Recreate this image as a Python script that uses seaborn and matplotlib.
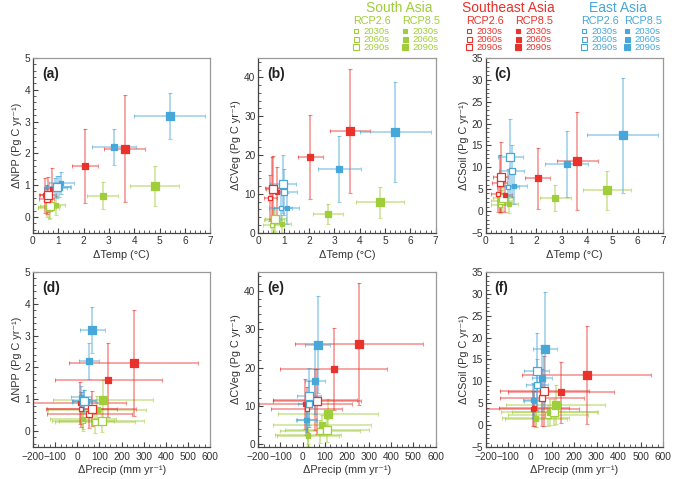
import numpy as np
import pandas as pd
import matplotlib
matplotlib.use('Agg')
import matplotlib.pyplot as plt
from matplotlib.ticker import AutoMinorLocator, MultipleLocator
from matplotlib.lines import Line2D
import seaborn as sns

# ── Data (order: RCP2.6 2030s/2060s/2090s, RCP8.5 2030s/2060s/2090s) ─────────
regions = ['South Asia', 'Southeast Asia', 'East Asia']
scenarios = ['RCP2.6', 'RCP2.6', 'RCP2.6', 'RCP8.5', 'RCP8.5', 'RCP8.5']
periods = ['2030s', '2060s', '2090s', '2030s', '2060s', '2090s']

temp_sa = [0.55, 0.62, 0.68, 0.93, 2.75, 4.80]
temp_sa_err = [0.35, 0.40, 0.40, 0.35, 0.60, 0.95]
temp_sea = [0.48, 0.55, 0.60, 0.75, 2.05, 3.62]
temp_sea_err = [0.25, 0.30, 0.30, 0.30, 0.50, 0.80]
temp_ea = [0.88, 1.02, 0.97, 1.12, 3.20, 5.40]
temp_ea_err = [0.45, 0.50, 0.50, 0.50, 0.85, 1.40]

precip_sa = [25, 80, 110, 25, 88, 115]
precip_sa_err = [140, 180, 190, 150, 220, 225]
precip_sea = [18, 55, 65, 12, 140, 255]
precip_sea_err = [160, 190, 200, 210, 240, 290]
precip_ea = [20, 30, 30, 15, 55, 68]
precip_ea_err = [45, 50, 55, 45, 45, 55]

npp_sa = [0.30, 0.28, 0.33, 0.37, 0.67, 0.97]
npp_sa_err = [0.30, 0.35, 0.35, 0.30, 0.43, 0.63]
npp_sea = [0.68, 0.55, 0.70, 0.88, 1.60, 2.15]
npp_sea_err = [0.55, 0.45, 0.55, 0.67, 1.17, 1.67]
npp_ea = [0.92, 0.95, 0.93, 1.07, 2.20, 3.17]
npp_ea_err = [0.30, 0.33, 0.35, 0.35, 0.56, 0.72]

cveg_sa = [2.0, 3.3, 3.5, 2.2, 4.9, 7.8]
cveg_sa_err = [2.5, 3.0, 3.0, 2.3, 2.6, 3.9]
cveg_sea = [9.0, 11.5, 11.2, 10.5, 19.6, 26.2]
cveg_sea_err = [6.0, 8.0, 8.5, 6.5, 10.8, 16.0]
cveg_ea = [6.3, 10.5, 12.5, 6.3, 16.4, 26.0]
cveg_ea_err = [4.0, 6.0, 7.5, 4.0, 8.5, 12.8]

csoil_sa = [1.3, 2.2, 3.0, 1.5, 2.9, 4.7]
csoil_sa_err = [1.8, 2.5, 3.0, 2.0, 3.0, 4.4]
csoil_sea = [3.8, 6.3, 7.8, 3.7, 7.5, 11.5]
csoil_sea_err = [4.0, 6.5, 8.0, 4.0, 7.0, 11.2]
csoil_ea = [5.5, 9.2, 12.3, 5.7, 10.8, 17.3]
csoil_ea_err = [4.0, 6.0, 8.8, 4.0, 7.5, 13.2]

# ── Tidy table ─────────────────────────────────────────────────────────────
region_data = {
    'South Asia': (temp_sa, temp_sa_err, precip_sa, precip_sa_err, npp_sa, npp_sa_err,
                   cveg_sa, cveg_sa_err, csoil_sa, csoil_sa_err),
    'Southeast Asia': (temp_sea, temp_sea_err, precip_sea, precip_sea_err, npp_sea, npp_sea_err,
                       cveg_sea, cveg_sea_err, csoil_sea, csoil_sea_err),
    'East Asia': (temp_ea, temp_ea_err, precip_ea, precip_ea_err, npp_ea, npp_ea_err,
                  cveg_ea, cveg_ea_err, csoil_ea, csoil_ea_err),
}
cols = ['temp', 'temp_err', 'precip', 'precip_err', 'npp', 'npp_err',
        'cveg', 'cveg_err', 'csoil', 'csoil_err']
rows = []
for reg in regions:
    vals = region_data[reg]
    for i in range(6):
        r = {'region': reg, 'scenario': scenarios[i], 'period': periods[i]}
        for c, v in zip(cols, vals):
            r[c] = v[i]
        rows.append(r)
df = pd.DataFrame(rows)

# ── Style ──────────────────────────────────────────────────────────────────
sns.set_style('ticks')
plt.rcParams['font.family'] = ['Liberation Sans', 'DejaVu Sans']

colors = {'South Asia': '#a0cd3a', 'Southeast Asia': '#e8322b', 'East Asia': '#46a7d8'}
msize = {'2030s': 2.8, '2060s': 4.0, '2090s': 5.3}

fig = plt.figure(figsize=(6.85, 4.79), dpi=100)

w, h = 0.259, 0.365
lefts = [0.048, 0.377, 0.709]
panels = [
    ('temp', 'npp', '(a)', (-0.5, 5), 1, 5, 'ΔNPP (Pg C yr⁻¹)'),
    ('temp', 'cveg', '(b)', (0, 45), 10, 5, 'ΔCVeg (Pg C yr⁻¹)'),
    ('temp', 'csoil', '(c)', (-5, 35), 5, 5, 'ΔCSoil (Pg C yr⁻¹)'),
    ('precip', 'npp', '(d)', (-0.5, 5), 1, 5, 'ΔNPP (Pg C yr⁻¹)'),
    ('precip', 'cveg', '(e)', (-0.8, 45), 10, 5, 'ΔCVeg (Pg C yr⁻¹)'),
    ('precip', 'csoil', '(f)', (-5, 35), 5, 5, 'ΔCSoil (Pg C yr⁻¹)'),
]

for k, (xc, yc, tag, ylim, ymaj, ymin_n, ylab) in enumerate(panels):
    row = k // 3
    bottom = 0.514 if row == 0 else 0.067
    ax = fig.add_axes([lefts[k % 3], bottom, w, h])

    # error bars first, then the squares on top
    for reg in regions:
        sub = df[df['region'] == reg]
        ax.errorbar(sub[xc], sub[yc], xerr=sub[xc + '_err'], yerr=sub[yc + '_err'],
                    fmt='none', ecolor=colors[reg], alpha=0.55, elinewidth=1.1,
                    capsize=1.5, capthick=0.8, zorder=2)
    for reg in regions:
        for per in ['2030s', '2060s', '2090s']:
            for sc in ['RCP2.6', 'RCP8.5']:
                sub = df[(df['region'] == reg) & (df['period'] == per) & (df['scenario'] == sc)]
                face = 'white' if sc == 'RCP2.6' else colors[reg]
                sns.scatterplot(data=sub, x=xc, y=yc, marker='s', s=msize[per] ** 2,
                                color=face, edgecolor=colors[reg], linewidth=0.9,
                                ax=ax, zorder=3, legend=False)

    if xc == 'temp':
        ax.set_xlim(0, 7)
        ax.xaxis.set_major_locator(MultipleLocator(1))
        ax.xaxis.set_minor_locator(AutoMinorLocator(5))
        ax.set_xlabel('ΔTemp (°C)', fontsize=7.8, color='#333333', labelpad=3)
    else:
        ax.set_xlim(-200, 600)
        ax.xaxis.set_major_locator(MultipleLocator(100))
        ax.xaxis.set_minor_locator(AutoMinorLocator(4))
        ax.set_xlabel('ΔPrecip (mm yr⁻¹)', fontsize=7.8, color='#333333', labelpad=2)
    ax.set_ylim(*ylim)
    ax.yaxis.set_major_locator(MultipleLocator(ymaj))
    ax.yaxis.set_minor_locator(AutoMinorLocator(ymin_n))
    ax.set_ylabel(ylab, fontsize=7.8, color='#333333', labelpad=2)

    ax.tick_params(which='both', direction='in', color='#444444', labelsize=7.3,
                   labelcolor='#333333', pad=2)
    if xc == 'precip':
        ax.tick_params(axis='x', pad=4)
    ax.tick_params(which='major', length=3.5, width=0.8)
    ax.tick_params(which='minor', length=2, width=0.6)
    for side in ['left', 'bottom']:
        ax.spines[side].set_color('#444444')
        ax.spines[side].set_linewidth(0.9)
    for side in ['top', 'right']:
        ax.spines[side].set_color('#999999')
        ax.spines[side].set_linewidth(0.9)
    ax.text(0.05, 0.95, tag, transform=ax.transAxes, fontsize=10, fontweight='bold',
            va='top', ha='left', color='#222222')

# ── Custom legend ──────────────────────────────────────────────────────────
W, H = 685.0, 479.0
head_x = {'South Asia': 399, 'Southeast Asia': 508, 'East Asia': 618}
mark_x = {'South Asia': (356, 405), 'Southeast Asia': (469, 518), 'East Asia': (584, 627)}
row_y = [31, 39, 47]
for reg in regions:
    c = colors[reg]
    fig.text(head_x[reg] / W, 1 - 8 / H, reg, ha='center', va='center', fontsize=10, color=c)
    for j, sc in enumerate(['RCP2.6', 'RCP8.5']):
        mx = mark_x[reg][j]
        fig.text((mx - 3) / W, 1 - 21 / H, sc, ha='left', va='center', fontsize=7.8, color=c)
        for i, per in enumerate(['2030s', '2060s', '2090s']):
            yy = 1 - row_y[i] / H
            face = 'white' if sc == 'RCP2.6' else c
            fig.add_artist(Line2D([mx / W], [yy], transform=fig.transFigure, marker='s',
                                  markersize=msize[per] * 0.9, markerfacecolor=face,
                                  markeredgecolor=c, markeredgewidth=0.8, linestyle='none'))
            fig.text((mx + 7) / W, yy, per, ha='left', va='center', fontsize=6.8, color=c)

fig.savefig('out.png', dpi=100)
